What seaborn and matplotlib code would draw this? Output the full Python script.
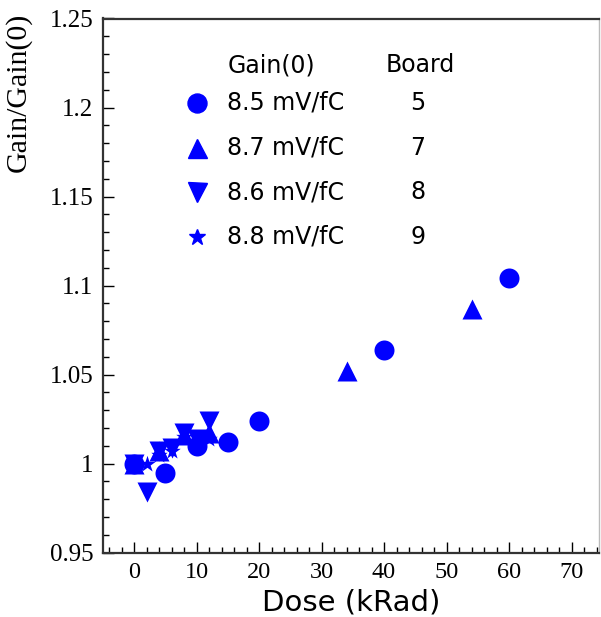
import matplotlib
matplotlib.use("Agg")
import matplotlib.pyplot as plt
import seaborn as sns
import pandas as pd
import numpy as np
from matplotlib.lines import Line2D
from matplotlib.ticker import MultipleLocator

# ---- data ----
boards = ["5", "7", "8", "9"]
gains = ["8.5 mV/fC", "8.7 mV/fC", "8.6 mV/fC", "8.8 mV/fC"]

dose_b5 = [0, 5, 10, 15, 20, 40, 60]
ratio_b5 = [1.000, 0.995, 1.010, 1.012, 1.024, 1.064, 1.104]

dose_b7 = [0, 4, 8, 12, 34, 54]
ratio_b7 = [1.000, 1.007, 1.016, 1.017, 1.052, 1.087]

dose_b8 = [0, 2, 4, 6, 8, 10, 12]
ratio_b8 = [1.000, 0.984, 1.007, 1.009, 1.017, 1.014, 1.024]

dose_b9 = [0, 2, 4, 6, 8, 10, 12]
ratio_b9 = [1.000, 1.000, 1.005, 1.007, 1.015, 1.012, 1.014]

xticks = [0, 10, 20, 30, 40, 50, 60, 70]
yticks = [0.95, 1.0, 1.05, 1.1, 1.15, 1.2, 1.25]
ytick_labels = ["0.95", "1", "1.05", "1.1", "1.15", "1.2", "1.25"]

doses = [dose_b5, dose_b7, dose_b8, dose_b9]
ratios = [ratio_b5, ratio_b7, ratio_b8, ratio_b9]

frames = []
for b, d, r in zip(boards, doses, ratios):
    frames.append(pd.DataFrame({"dose": d, "ratio": r, "board": b}))
df = pd.concat(frames, ignore_index=True)

# ---- style ----
sns.set_theme(style="white")
plt.rcParams['font.family'] = ['DejaVu Sans']
plt.rcParams['text.color'] = 'black'
plt.rcParams['xtick.color'] = 'black'
plt.rcParams['ytick.color'] = 'black'

BLUE = (0, 0, 1)
markers = {"5": "o", "7": "^", "8": "v", "9": "*"}
msizes = {"5": 14.4, "7": 14.4, "8": 14.4, "9": 12.5}

fig = plt.figure(figsize=(6.01, 6.17), dpi=100)
ax = fig.add_axes([103 / 601, 1 - 552.7 / 617, (599 - 103) / 601, (552.7 - 18.5) / 617])

for b in boards:
    sub = df[df["board"] == b]
    sns.scatterplot(data=sub, x="dose", y="ratio", marker=markers[b],
                    s=msizes[b] ** 2, color=BLUE, edgecolor=BLUE,
                    linewidth=0, ax=ax, legend=False, zorder=3)

ax.set_xlim(-4.96, 74.4)
ax.set_ylim(0.95, 1.25)

ax.set_xticks(xticks)
ax.set_xticklabels([str(t) for t in xticks], family="Liberation Serif", fontsize=17.5)
ax.set_yticks(yticks)
ax.set_yticklabels(ytick_labels, family="Liberation Serif", fontsize=18)
ax.xaxis.set_minor_locator(MultipleLocator(2))
ax.yaxis.set_minor_locator(MultipleLocator(0.01))
ax.tick_params(axis="both", which="both", direction="in", color="black",
               labelcolor="black", bottom=True, left=True, top=False, right=False)
ax.tick_params(axis="both", which="major", length=8, width=1.0, pad=7)
ax.tick_params(axis="both", which="minor", length=4, width=1.0)
ax.set_xlabel("")
ax.set_ylabel("")

for side in ["left", "bottom", "top"]:
    ax.spines[side].set_color("#333333")
    ax.spines[side].set_linewidth(1.6)
ax.spines["right"].set_color("#bbbbbb")
ax.spines["right"].set_linewidth(1.0)

fig.text(351 / 601, 1 - 611 / 617, "Dose (kRad)", ha="center", va="baseline",
         fontsize=21, family="DejaVu Sans", color="black")
fig.text(18 / 601, 1 - 92 / 617, "Gain/Gain(0)", ha="center", va="center",
         rotation=90, fontsize=21.5, family="Liberation Serif", color="black")

# ---- legend (manual table) ----
def fx(px):
    return (px - 103) / (599 - 103)

def fy(py):
    return (552.7 - py) / (552.7 - 18.5)

ax.text(fx(228), fy(65), "Gain(0)", ha="left", va="center", fontsize=17,
        transform=ax.transAxes, color="black")
ax.text(fx(420), fy(65), "Board", ha="center", va="center", fontsize=17,
        transform=ax.transAxes, color="black")
row_y = [103, 148, 192, 237]
for b, g, yy in zip(boards, gains, row_y):
    ax.add_line(Line2D([fx(197)], [fy(yy)], marker=markers[b], markersize=msizes[b] * 0.95,
                       color=BLUE, linestyle="none", transform=ax.transAxes))
    ax.text(fx(227), fy(yy), g, ha="left", va="center", fontsize=17,
            transform=ax.transAxes, color="black")
    ax.text(fx(418), fy(yy), b, ha="center", va="center", fontsize=17,
            transform=ax.transAxes, color="black")

fig.savefig("out.png", dpi=100)
